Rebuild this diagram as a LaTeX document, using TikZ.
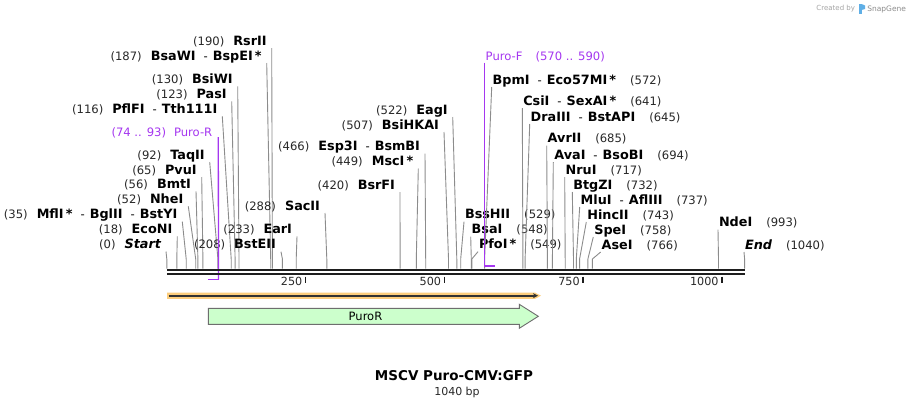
\documentclass[tikz,border=0pt]{standalone}
\usepackage{fontspec}
\setmainfont{DejaVu Sans}
\usetikzlibrary{arrows.meta}
\definecolor{cutgray}{RGB}{140,140,140}
\definecolor{numcol}{RGB}{40,40,40}
\definecolor{primer}{RGB}{165,55,240}
\definecolor{orband}{RGB}{252,205,125}
\definecolor{featdark}{RGB}{50,50,50}
\definecolor{greenfill}{RGB}{204,255,204}
\definecolor{greenedge}{RGB}{110,110,110}
\definecolor{logogray}{RGB}{165,165,165}
\definecolor{logoblue}{RGB}{95,175,230}
\definecolor{rulercol}{RGB}{30,30,30}

\newcommand\numtx[1]{{\color{numcol}\fontsize{11.6}{13}\selectfont #1}}
\newcommand\enzx[1]{{\fontsize{12.8}{14}\selectfont\bfseries #1}}
\newcommand\dsh{\hspace{8pt}{\fontsize{11.6}{13}\selectfont -}\hspace{5pt}}
\newcommand\gapL{\hspace{9pt}}
\newcommand\gapR{\hspace{14pt}}
% left label: id, cut x, label end x, baseline y, text
\newcommand\sitel[5]{%
  \coordinate (c#1) at (#2,268.5);
  \coordinate (k#1) at (#2,259);
  \node[lbl, anchor=base east] (l#1) at (#3,#4) {#5};
  \draw[cutline] ([xshift=5pt,yshift=-3pt]l#1.base east) -- (k#1) -- (c#1);
}
% right label: id, cut x, label start x, baseline y, text
\newcommand\siter[5]{%
  \coordinate (c#1) at (#2,268.5);
  \coordinate (k#1) at (#2,259);
  \node[lbl, anchor=base west] (l#1) at (#3,#4) {#5};
  \draw[cutline] ([xshift=-1pt,yshift=-3pt]l#1.base west) -- (k#1) -- (c#1);
}

\begin{document}
\begin{tikzpicture}[x=1pt,y=-1pt,
  lbl/.style={inner sep=0pt, outer sep=0pt},
  cutline/.style={draw=cutgray, line width=0.9pt},
  primerline/.style={draw=primer, line width=1.3pt},
  primerbar/.style={draw=primer, line width=1.8pt},
  rulerline/.style={draw=rulercol, line width=2.3pt},
  tickline/.style={draw=rulercol, line width=1.4pt},
  ticklbl/.style={lbl, anchor=base east, font=\fontsize{11.2}{13}\selectfont, text=numcol}]
\useasboundingbox (0,0) rectangle (913,408);
\fill[white] (0,0) rectangle (913,408);

% ---- logo
\node[lbl, anchor=base east, text=logogray, font=\fontsize{7}{8}\selectfont] (logoA) at (855,10.5) {Created by};
\fill[logoblue] (858.5,4) rectangle (861.5,14);
\fill[logoblue] (861.5,4) -- (865,5.5) -- (865,9) -- (861.5,10) -- cycle;
\node[lbl, anchor=base east, text=logogray!85!black, font=\fontsize{7.5}{9}\selectfont] (logoB) at (906,11) {SnapGene};

% ---- left-labelled sites
\sitel{0}{166.8}{161}{248.5}{\numtx{(0)}\gapL\enzx{\itshape Start}}
\sitel{18}{176.8}{172.3}{233.3}{\numtx{(18)}\gapL\enzx{EcoNI}}
\sitel{35}{186.2}{177.3}{218.7}{\numtx{(35)}\gapL\enzx{MflI\,*}\dsh\enzx{BglII}\dsh\enzx{BstYI}}
\sitel{52}{195.7}{183.3}{203.3}{\numtx{(52)}\gapL\enzx{NheI}}
\sitel{56}{197.9}{191}{188.3}{\numtx{(56)}\gapL\enzx{BmtI}}
\sitel{65}{202.9}{196.7}{174}{\numtx{(65)}\gapL\enzx{PvuI}}
\sitel{92}{217.9}{204.7}{159}{\numtx{(92)}\gapL\enzx{TaqII}}
\sitel{116}{231.2}{217.3}{113.3}{\numtx{(116)}\gapL\enzx{PflFI}\dsh\enzx{Tth111I}}
\sitel{123}{235.1}{226.7}{98.3}{\numtx{(123)}\gapL\enzx{PasI}}
\sitel{130}{239.0}{232.7}{83.3}{\numtx{(130)}\gapL\enzx{BsiWI}}
\sitel{187}{270.7}{261.7}{60}{\numtx{(187)}\gapL\enzx{BsaWI}\dsh\enzx{BspEI\,*}}
\sitel{190}{272.4}{266.7}{45}{\numtx{(190)}\gapL\enzx{RsrII}}
\sitel{208}{282.4}{276}{248.7}{\numtx{(208)}\gapL\enzx{BstEII}}
\sitel{233}{296.2}{292}{233.3}{\numtx{(233)}\gapL\enzx{EarI}}
\sitel{288}{326.8}{320}{210}{\numtx{(288)}\gapL\enzx{SacII}}
\sitel{420}{400.1}{395}{189}{\numtx{(420)}\gapL\enzx{BsrFI}}
\sitel{449}{416.3}{413.3}{165.7}{\numtx{(449)}\gapL\enzx{MscI\,*}}
\sitel{466}{425.7}{420}{150.7}{\numtx{(466)}\gapL\enzx{Esp3I}\dsh\enzx{BsmBI}}
\sitel{507}{448.5}{439}{129}{\numtx{(507)}\gapL\enzx{BsiHKAI}}
\sitel{522}{456.8}{447.7}{114}{\numtx{(522)}\gapL\enzx{EagI}}

% ---- right-labelled sites
\siter{529}{460.7}{465}{218.7}{\enzx{BssHII}\gapR\numtx{(529)}}
\siter{548}{471.3}{471.7}{233.7}{\enzx{BsaI}\gapR\numtx{(548)}}
\siter{549}{471.8}{479}{248.7}{\enzx{PfoI\,*}\gapR\numtx{(549)}}
\siter{572}{484.6}{492.7}{84}{\enzx{BpmI}\dsh\enzx{Eco57MI\,*}\gapR\numtx{(572)}}
\siter{641}{522.9}{523.3}{105}{\enzx{CsiI}\dsh\enzx{SexAI\,*}\gapR\numtx{(641)}}
\siter{645}{525.1}{530.7}{121}{\enzx{DraIII}\dsh\enzx{BstAPI}\gapR\numtx{(645)}}
\siter{685}{547.4}{547.7}{142.7}{\enzx{AvrII}\gapR\numtx{(685)}}
\siter{694}{552.4}{554.3}{159}{\enzx{AvaI}\dsh\enzx{BsoBI}\gapR\numtx{(694)}}
\siter{717}{565.2}{565.7}{174}{\enzx{NruI}\gapR\numtx{(717)}}
\siter{732}{573.5}{573.3}{189}{\enzx{BtgZI}\gapR\numtx{(732)}}
\siter{737}{576.3}{580.7}{204}{\enzx{MluI}\dsh\enzx{AflIII}\gapR\numtx{(737)}}
\siter{743}{579.6}{587.3}{219}{\enzx{HincII}\gapR\numtx{(743)}}
\siter{758}{587.9}{594.3}{234}{\enzx{SpeI}\gapR\numtx{(758)}}
\siter{766}{592.4}{601.7}{249}{\enzx{AseI}\gapR\numtx{(766)}}
\siter{993}{718.5}{719}{226.7}{\enzx{NdeI}\gapR\numtx{(993)}}
\siter{1040}{744.6}{745}{249}{\enzx{\itshape End}\gapR\numtx{(1040)}}

% ---- primers
\node[lbl, anchor=base east, text=primer, font=\fontsize{11.6}{13}\selectfont] (pR) at (212.3,136) {(74 .. 93)\hspace{8pt}Puro-R};
\coordinate (prB) at (218.5,279.5);
\coordinate (prC) at (207.9,279.5);
\draw[primerline] ([xshift=6pt,yshift=-1pt]pR.base east) -- (prB);
\draw[primerbar] (prC) -- (prB);

\node[lbl, anchor=base west, text=primer, font=\fontsize{11.6}{13}\selectfont] (pF) at (485.7,60.7) {Puro-F\hspace{13pt}(570 .. 590)};
\coordinate (pfB) at (484.2,266);
\coordinate (pfC) at (494.6,266);
\draw[primerline] ([xshift=-1.5pt,yshift=-2pt]pF.base west) -- (pfB);
\draw[primerbar] (pfB) -- (pfC);

% ---- ruler
\coordinate (ra) at (166.8,270);
\coordinate (rb) at (745.2,270);
\coordinate (sa) at (166.8,274.3);
\coordinate (sb) at (745.2,274.3);
\draw[rulerline] (ra) -- (rb);
\draw[rulerline] (sa) -- (sb);
\foreach \t/\xx in {250/305.7, 500/444.4, 750/583.1, 1000/722}{
  \coordinate (t\t a) at (\xx,276.5);
  \coordinate (t\t b) at (\xx,283);
  \draw[tickline] (t\t a) -- (t\t b);
  \node[ticklbl] (tl\t) at (\xx-3.4,285.7) {\t};
}

% ---- feature bar (orange)
\fill[orband] (167,292.6) -- (535,292.6) -- (541,295.7) -- (535,298.8) -- (167,298.8) -- cycle;
\coordinate (fa) at (168.5,295.7);
\coordinate (fb) at (538,295.7);
\draw[featdark, line width=1.8pt, -{Stealth[length=5pt,width=5pt]}] (fa) -- (fb);

% ---- PuroR arrow
\draw[fill=greenfill, draw=greenedge, line width=0.9pt]
  (208.3,308.3) -- (519.3,308.3) -- (519.3,304.3) -- (538.3,316.3)
  -- (519.3,328.3) -- (519.3,324.3) -- (208.3,324.3) -- cycle;
\node[lbl, font=\fontsize{11.5}{13}\selectfont] (puroR) at (365.5,316) {PuroR};

% ---- title
\node[lbl, anchor=base, font=\fontsize{13.5}{15}\selectfont\bfseries] (title) at (454,380.7) {MSCV Puro-CMV:GFP};
\node[lbl, anchor=base, font=\fontsize{11}{12}\selectfont, text=numcol] (bp) at (457,395) {1040 bp};
\end{tikzpicture}
\end{document}
